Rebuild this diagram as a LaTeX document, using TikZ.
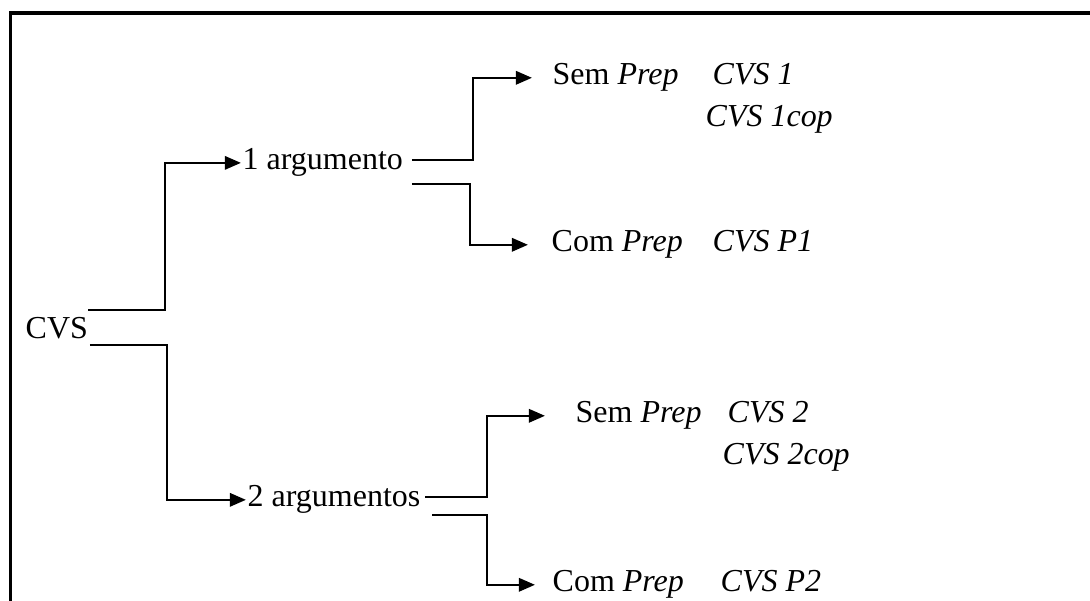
\documentclass[tikz,border=0pt]{standalone}
\usepackage{fontspec}
\setmainfont{Liberation Serif}
\usetikzlibrary{arrows.meta}

\begin{document}
\begin{tikzpicture}[
    label/.style = {anchor=base west, inner sep=0pt,
                    font=\fontsize{9.1}{11}\selectfont},
    link/.style  = {line width=0.7pt},
    arr/.style   = {link, -{Triangle[length=4.6pt,width=3.8pt]}}]
 \useasboundingbox (0,0) rectangle (10.9,6.01);
 \draw[line width=0.9pt] (0.105,-0.1) -- (0.105,5.88) -- (11,5.88);
 % texts
 \node[label] (cvs)  at (0.25,2.62) {CVS};
 \node[label] (arg1) at (2.42,4.31) {1 argumento};
 \node[label] (arg2) at (2.47,0.94) {2 argumentos};
 \node[label] (sem1) at (5.52,5.16) {Sem \textit{Prep}};
 \node[label] (cvs1) at (7.12,5.16) {\textit{CVS 1}};
 \node[label] (cop1) at (7.05,4.74) {\textit{CVS 1cop}};
 \node[label] (com1) at (5.51,3.49) {Com \textit{Prep}};
 \node[label] (p1)   at (7.12,3.49) {\textit{CVS P1}};
 \node[label] (sem2) at (5.75,1.78) {Sem \textit{Prep}};
 \node[label] (cvs2) at (7.27,1.78) {\textit{CVS 2}};
 \node[label] (cop2) at (7.22,1.36) {\textit{CVS 2cop}};
 \node[label] (com2) at (5.52,0.09) {Com \textit{Prep}};
 \node[label] (p2)   at (7.20,0.09) {\textit{CVS P2}};
 % branch starts
 \coordinate (cvs-a)  at (0.88,2.91);
 \coordinate (cvs-b)  at (0.90,2.56);
 \coordinate (arg1-a) at (4.12,4.41);
 \coordinate (arg1-b) at (4.12,4.17);
 \coordinate (arg2-a) at (4.25,1.04);
 \coordinate (arg2-b) at (4.32,0.86);
 % connectors
 \draw[arr] (cvs-a) -- ++(0.77,0) |- ([xshift=-0.3pt]arg1.west);
 \draw[arr] (cvs-b) -- ++(0.77,0) |- ([xshift=-0.3pt]arg2.west);
 \draw[arr] (arg1-a) -- ++(0.61,0) |- ([xshift=-0.2cm]sem1.west);
 \draw[arr] (arg1-b) -- ++(0.58,0) |- ([xshift=-0.23cm]com1.west);
 \draw[arr] (arg2-a) -- ++(0.62,0) |- ([xshift=-0.3cm]sem2.west);
 \draw[arr] (arg2-b) -- ++(0.55,0) |- ([xshift=-0.17cm]com2.west);
\end{tikzpicture}
\end{document}
